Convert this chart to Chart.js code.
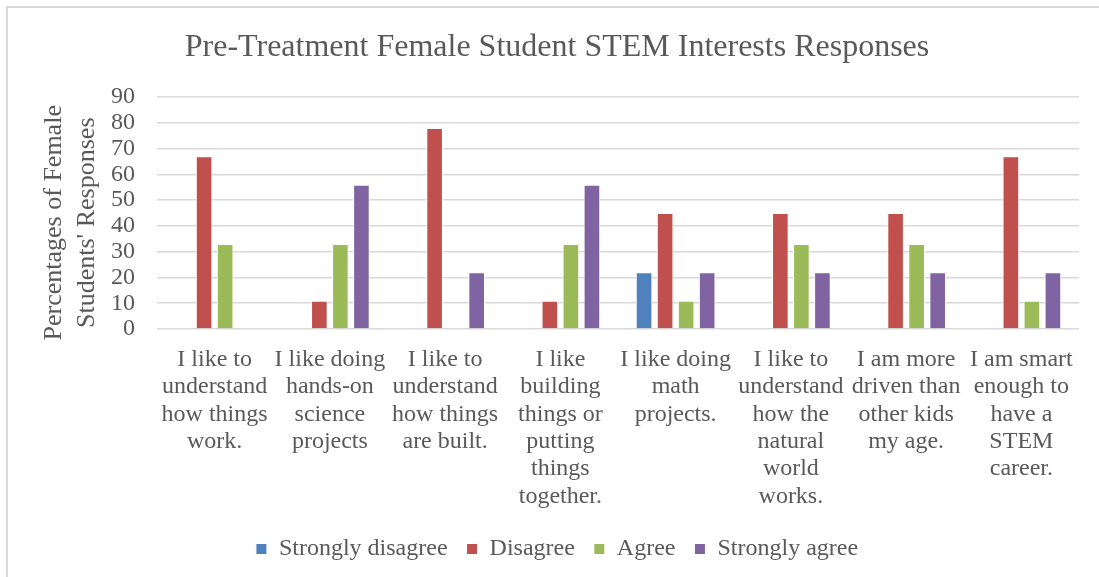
<!DOCTYPE html>
<html>
<head>
<meta charset="utf-8">
<script src="https://cdn.jsdelivr.net/npm/chart.js@4/dist/chart.umd.min.js"></script>
<style>
  html, body { margin: 0; padding: 0; background: #fff; }
  #wrap { position: relative; width: 1099px; height: 577px; overflow: hidden; }
  #frame { position: absolute; left: 6px; top: 6px; width: 1200px; height: 700px;
           border-left: 2px solid #d9d9d9; border-top: 2px solid #d9d9d9; pointer-events: none; }
  canvas { position: absolute; left: 0; top: 0; }
</style>
</head>
<body>
<div id="wrap">
  <canvas id="c" width="1099" height="577"></canvas>
  <div id="frame"></div>
</div>
<script>
const categories = [
  ["I like to", "understand", "how things", "work."],
  ["I like doing", "hands-on", "science", "projects"],
  ["I like to", "understand", "how things", "are built."],
  ["I like", "building", "things or", "putting", "things", "together."],
  ["I like doing", "math", "projects."],
  ["I like to", "understand", "how the", "natural", "world", "works."],
  ["I am more", "driven than", "other kids", "my age."],
  ["I am smart", "enough to", "have a", "STEM", "career."]
];
const seriesNames = ["Strongly disagree", "Disagree", "Agree", "Strongly agree"];
const stronglyDisagree = [0, 0, 0, 0, 22, 0, 0, 0];
const disagree         = [67, 11, 78, 11, 45, 45, 45, 67];
const agree            = [33, 33, 0, 33, 11, 33, 33, 11];
const stronglyAgree    = [0, 56, 22, 56, 22, 22, 22, 22];
const yTicks = [0, 10, 20, 30, 40, 50, 60, 70, 80, 90];
const colors = ["#4F81BD", "#C0504D", "#9BBB59", "#8064A2"];

const serif = "'Liberation Serif', 'Times New Roman', 'DejaVu Serif', serif";
const textColor = "#595959";

const seriesData = [stronglyDisagree, disagree, agree, stronglyAgree];

new Chart(document.getElementById('c'), {
  type: 'bar',
  data: {
    labels: categories,
    datasets: seriesData.map((d, i) => ({
      label: seriesNames[i],
      data: d,
      backgroundColor: colors[i],
      borderColor: '#ffffff',
      borderWidth: 1,
      borderSkipped: 'bottom',
      categoryPercentage: 0.73,
      barPercentage: 0.79
    }))
  },
  options: {
    responsive: false,
    animation: false,
    layout: { padding: { left: 35, right: 20, top: 0, bottom: 6 } },
    plugins: {
      title: {
        display: true,
        text: 'Pre-Treatment Female Student STEM Interests Responses',
        color: textColor,
        font: { family: serif, size: 32, weight: 'normal', lineHeight: 1.2 },
        padding: { top: 28, bottom: 30.6 }
      },
      legend: {
        position: 'bottom',
        labels: {
          color: textColor,
          font: { family: serif, size: 24 },
          boxWidth: 11,
          boxHeight: 11,
          padding: 19
        }
      },
      tooltip: { enabled: false }
    },
    scales: {
      x: {
        grid: { display: false, drawTicks: false },
        border: { display: false },
        ticks: {
          color: textColor,
          font: { family: serif, size: 24, lineHeight: 1.14 },
          padding: 17,
          autoSkip: false,
          maxRotation: 0,
          minRotation: 0
        },
        afterFit: (s) => { s.height = 189; }
      },
      y: {
        min: 0,
        max: 90,
        afterBuildTicks: (s) => { s.ticks = yTicks.map(v => ({ value: v })); },
        grid: { color: '#d9d9d9', lineWidth: 1.5, drawTicks: false },
        border: { display: false },
        ticks: {
          color: textColor,
          font: { family: serif, size: 24 },
          padding: 22,
          autoSkip: false,
          stepSize: 10
        },
        title: {
          display: true,
          text: ["Percentages of Female\u00a0\u00a0\u00a0", "Students' Responses\u00a0\u00a0\u00a0"],
          color: textColor,
          font: { family: serif, size: 26, lineHeight: 1.27 },
          padding: { top: 3, bottom: 0 }
        },
        afterFit: (s) => { s.width = 122; }
      }
    }
  }
});
</script>
</body>
</html>
